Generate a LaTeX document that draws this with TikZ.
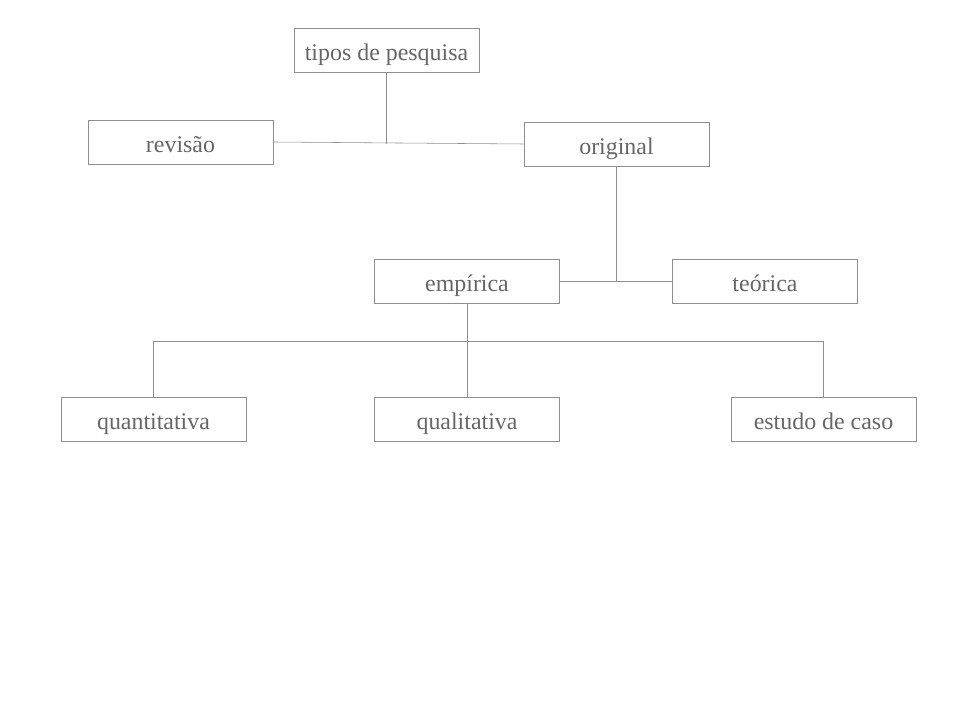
\documentclass[tikz,border=0pt]{standalone}
\usepackage{fontspec}
\setmainfont{Liberation Serif}
\usetikzlibrary{calc}
\definecolor{linegray}{HTML}{8E8E8E}
\definecolor{textgray}{HTML}{666666}

\begin{document}
\begin{tikzpicture}[x=0.025cm, y=-0.025cm,
  tbox/.style={draw=linegray, text=textgray, minimum width=4.625cm, minimum height=1.1cm,
    inner sep=0pt, text height=17pt, text depth=1.4pt, font=\fontsize{17}{20}\selectfont},
  link/.style={draw=linegray, thin}]

\useasboundingbox (0,0) rectangle (960,720);

\node[tbox] (tipos) at (386.5, 50) {tipos de pesquisa};
\node[tbox] (revisao) at (180.5, 142) {revisão};
\node[tbox] (original) at (616.5, 144) {original};

\node[tbox] (empirica) at (467, 281) {empírica};
\node[tbox] (teorica) at (765, 281) {teórica};

\node[tbox] (quanti) at (153.5, 419) {quantitativa};
\node[tbox] (quali) at (467, 419) {qualitativa};
\node[tbox] (estudo) at (823.5, 419) {estudo de caso};

% first level
\draw[link] (revisao.east) -- (original.west);
\draw[link] (tipos.south) -- (tipos.south |- original.west);

% second level
\draw[link] (empirica.east) -- (teorica.west);
\draw[link] (original.south) -- (original.south |- teorica.west);

% third level
\coordinate (bus) at (0, 341);
\draw[link] (quanti.north) -- (quanti.north |- bus) -- (estudo.north |- bus) -- (estudo.north);
\draw[link] (empirica.south) -- (quali.north);

\end{tikzpicture}
\end{document}
